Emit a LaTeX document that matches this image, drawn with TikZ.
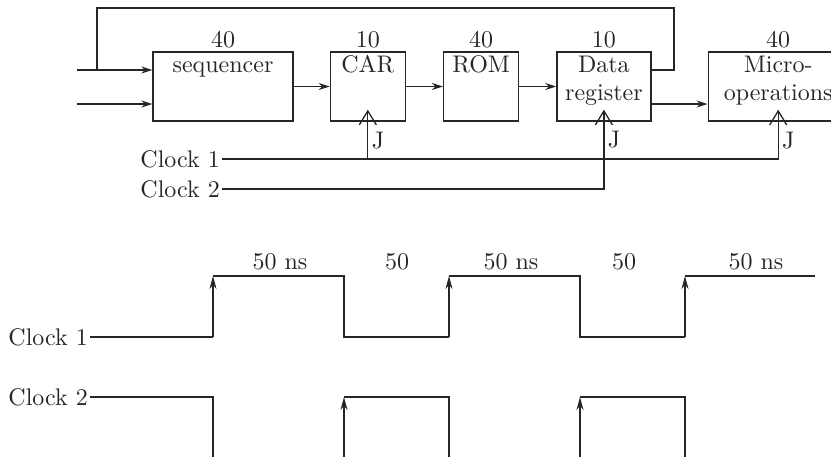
\documentclass[tikz,border=0pt]{standalone}
\usepackage{fontspec}
\setmainfont{lmroman10-regular}[Extension=.otf]
\usetikzlibrary{arrows.meta,calc,positioning}
\definecolor{WireInk}{HTML}{262626}
\tikzset{
  every node/.style={font=\fontsize{24}{28}\selectfont, text=WireInk},
  block/.style={draw=WireInk, line width=1.3pt, minimum height=69pt, inner sep=0pt},
  blocktext/.style={anchor=north, align=center, inner sep=3pt, text height=18pt},
  twoline/.style={blocktext, text height=46pt},
  wire/.style={draw=WireInk, line width=1.3pt},
  feed/.style={wire, -{Stealth[length=11pt,width=7pt]}},
  clockin/.style={wire, -{Straight Barb[length=14pt,width=17pt]}},
  rise/.style={wire, -{Stealth[length=13pt,width=7pt]}},
}
\begin{document}
\begin{tikzpicture}[x=1pt,y=-1pt]
  \useasboundingbox (0,0) rectangle (831,456);
  \clip (0,0) rectangle (831,456);
  % upper part: blocks
  \node[block, minimum width=140pt] (seq) at (223,86.5) {};
  \node[block, minimum width=75pt, right=36pt of seq] (car) {};
  \node[block, minimum width=75pt, right=37pt of car] (rom) {};
  \node[block, minimum width=94pt, right=37pt of rom] (dr) {};
  \node[block, minimum width=140pt, right=56pt of dr] (micro) {};
  \node[blocktext] (seqtxt) at (seq.north) {sequencer};
  \node[blocktext] (cartxt) at (car.north) {CAR};
  \node[blocktext] (romtxt) at (rom.north) {ROM};
  \node[twoline] (drtxt) at (dr.north) {Data\\register};
  \node[twoline] (microtxt) at (micro.north) {Micro-\\operations};
  \node[above=0pt of seq] (seqdel) {40};
  \node[above=0pt of car] (cardel) {10};
  \node[above=0pt of rom] (romdel) {40};
  \node[above=0pt of dr] (drdel) {10};
  \node[above=0pt of micro] (microdel) {40};
  % inputs and feedback
  \coordinate (in1) at (77,70);
  \coordinate (in2) at (77,104);
  \coordinate (fbin) at (97,70);
  \coordinate (fbtop) at (674,8);
  \draw[feed] (in1) -- (in1 -| seq.west);
  \draw[feed] (in2) -- (in2 -| seq.west);
  \draw[wire] (dr.east |- in1) -| (fbtop) -| (fbin);
  \draw[feed] (seq) -- (car);
  \draw[feed] (car) -- (rom);
  \draw[feed] (rom) -- (dr);
  \draw[feed] (dr.east |- in2) -- (micro.west |- in2);
  % clock lines
  \node[anchor=east, inner sep=2pt] (clk1) at (222,159) {Clock 1};
  \node[anchor=east, inner sep=2pt] (clk2) at (222,189) {Clock 2};
  \draw[clockin] (clk1.east) -| node[right, pos=0.69] (j3) {J} ([yshift=12pt]micro.south);
  \draw[clockin] (car.south |- clk1.east) -- node[right, pos=0.38] (j1) {J} ([yshift=12pt]car.south);
  \draw[clockin] (clk2.east) -| node[right, pos=0.81] (j2) {J} ([yshift=12pt]dr.south);
  % lower part: timing
  \node[anchor=east, inner sep=2pt] (clk1t) at (90,337) {Clock 1};
  \node[anchor=east, inner sep=2pt] (clk2t) at (90,397) {Clock 2};
  \foreach \x/\t [count=\i] in {280/50 ns,397/50,511/50 ns,624/50,756/50 ns}
    \node (span\i) at (\x,262) {\t};
  \draw[wire] (clk1t.east) -- (213,337) (213,276) -- (344,276) -- (344,337) -- (449,337)
    (449,276) -- (580,276) -- (580,337) -- (685,337) (685,276) -- (815,276);
  \foreach \x in {213,449,685}
    \draw[rise] (\x,337) -- (\x,276);
  \draw[wire] (clk2t.east) -- (213,397) -- (213,460) (344,397) -- (449,397) -- (449,460)
    (580,397) -- (685,397) -- (685,460);
  \foreach \x in {344,580}
    \draw[rise] (\x,460) -- (\x,397);
\end{tikzpicture}
\end{document}
